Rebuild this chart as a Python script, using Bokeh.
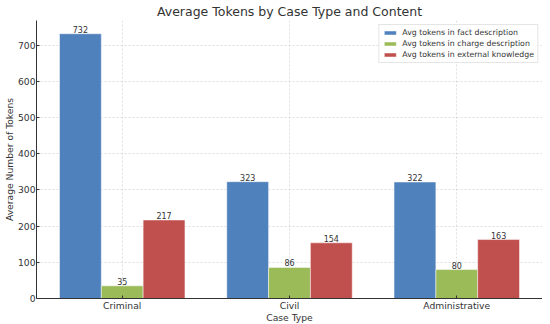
from bokeh.plotting import figure
from bokeh.models import ColumnDataSource, Range1d, FixedTicker, Legend, LegendItem
from bokeh.transform import dodge
from bokeh.embed import file_html
from bokeh.resources import INLINE
from bokeh.core.properties import value

categories = ["Criminal", "Civil", "Administrative"]
fact_tokens = [732, 323, 322]
charge_tokens = [35, 86, 80]
external_tokens = [217, 154, 163]
series_names = ["Avg tokens in fact description",
                "Avg tokens in charge description",
                "Avg tokens in external knowledge"]
y_ticks = [0, 100, 200, 300, 400, 500, 600, 700]

colors = ["#4F81BD", "#9BBB59", "#C0504D"]
FONT = "DejaVu Sans"
TXT = "#333333"

idx = list(range(len(categories)))
src = ColumnDataSource(dict(x=idx, fact=fact_tokens, charge=charge_tokens, ext=external_tokens,
                            fact_l=[str(v) for v in fact_tokens],
                            charge_l=[str(v) for v in charge_tokens],
                            ext_l=[str(v) for v in external_tokens]))

ymax = max(fact_tokens + charge_tokens + external_tokens) * 1.05
p = figure(frame_width=506, frame_height=278, output_backend="svg", toolbar_location=None,
           x_range=Range1d(-0.5125, 2.5125), y_range=Range1d(0, ymax),
           title="Average Tokens by Case Type and Content",
           min_border_left=0, min_border_right=0, min_border_top=0, min_border_bottom=0)

p.title.align = "center"
p.title.text_font = FONT
p.title.text_font_size = "12.5px"
p.title.text_font_style = "normal"
p.title.text_color = TXT
p.title.standoff = 3

width = 0.25
renderers = []
for col, off, c in [("fact", -0.25, colors[0]), ("charge", 0.0, colors[1]), ("ext", 0.25, colors[2])]:
    r = p.vbar(x=dodge("x", off, range=p.x_range), top=col, width=width, source=src,
               fill_color=c, line_color="white", line_width=0.8, line_alpha=0.6)
    renderers.append(r)
    p.text(x=dodge("x", off, range=p.x_range), y=col, text=col + "_l", source=src,
           text_align="center", text_baseline="bottom", y_offset=-1,
           text_font=value(FONT), text_font_size="8px", text_color=TXT)

legend = Legend(items=[LegendItem(label=n, renderers=[r]) for n, r in zip(series_names, renderers)],
                location="top_right")
legend.label_text_font = FONT
legend.label_text_font_size = "7.8px"
legend.label_text_color = TXT
legend.glyph_width = 15
legend.glyph_height = 5
legend.label_height = 8
legend.spacing = 2
legend.padding = 3
legend.margin = 4
legend.label_standoff = 5
legend.border_line_color = "#cccccc"
legend.background_fill_alpha = 0.85
p.add_layout(legend)

p.xaxis.ticker = FixedTicker(ticks=idx)
p.xaxis.major_label_overrides = {i: c for i, c in zip(idx, categories)}
p.yaxis.ticker = FixedTicker(ticks=y_ticks)
p.xaxis.axis_label = "Case Type"
p.yaxis.axis_label = "Average Number of Tokens"

for ax in (p.xaxis[0], p.yaxis[0]):
    ax.axis_label_text_font = FONT
    ax.axis_label_text_font_size = "9.2px"
    ax.axis_label_text_font_style = "normal"
    ax.axis_label_text_color = TXT
    ax.major_label_text_font = FONT
    ax.major_label_text_font_size = "9.2px"
    ax.major_label_text_color = TXT
    ax.axis_line_color = "#333333"
    ax.major_tick_line_color = "#333333"
    ax.major_tick_out = 0
    ax.major_tick_in = 3
    ax.minor_tick_line_color = None

p.xaxis.axis_label_standoff = -2
p.xaxis.major_label_standoff = 1
p.yaxis.axis_label_standoff = 0
p.yaxis.major_label_standoff = 1

p.grid.grid_line_color = "#d5d5d5"
p.grid.grid_line_dash = "2 2"
p.grid.grid_line_width = 0.8
p.outline_line_color = None
p.background_fill_color = "white"

open("out.html", "w").write(file_html(p, INLINE))
